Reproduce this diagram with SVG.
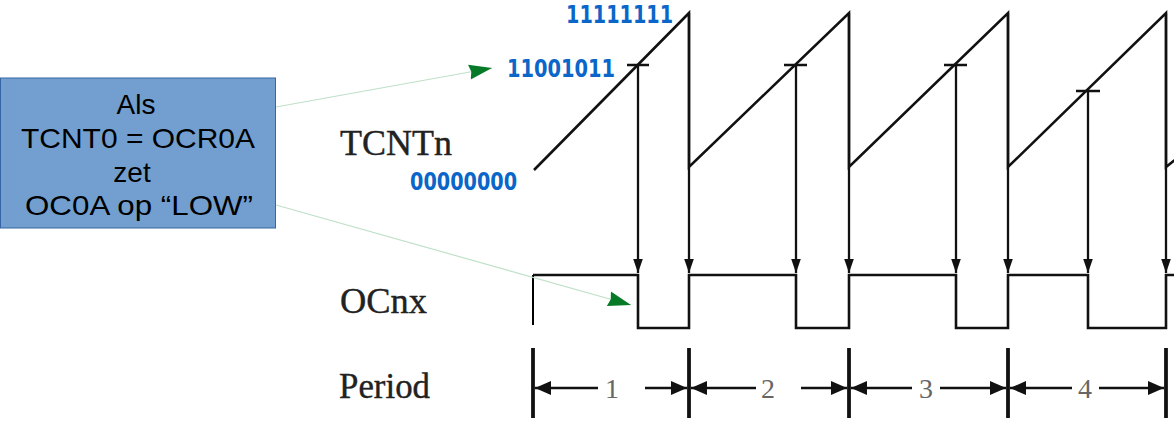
<svg xmlns="http://www.w3.org/2000/svg" width="1174" height="426" viewBox="0 0 1174 426">
<style>
.wave{fill:none;stroke:#111;stroke-width:2.6;stroke-linejoin:miter}
.trig{fill:none;stroke:#111;stroke-width:2.3}
.bar{stroke:#111;stroke-width:3.8}
.dim{stroke:#111;stroke-width:2.6}
.lbl{font-family:"Liberation Serif",serif;font-size:36px;fill:#222;stroke:#222;stroke-width:0.4}
.num{font-family:"Liberation Serif",serif;font-size:28px;fill:#666}
.bin{font-family:"DejaVu Sans",sans-serif;font-weight:bold;font-size:24px;fill:#0a66c8}
.boxt{font-family:"Liberation Sans",Arial,sans-serif;font-size:28px;fill:#000}
.conn{fill:none;stroke:#bfe0c8;stroke-width:1.2}
</style>
<defs>
<marker id="down" markerUnits="userSpaceOnUse" markerWidth="16" markerHeight="12" viewBox="-15 -6 16 12" refX="0" refY="0" orient="auto">
<path d="M0,0 L-14,-4.8 L-14,4.8 Z" fill="#111"/>
</marker>
<marker id="dimh" markerUnits="userSpaceOnUse" markerWidth="18" markerHeight="16" viewBox="-17 -8 18 16" refX="0" refY="0" orient="auto">
<path d="M0,0 L-16,-7 L-16,7 Z" fill="#111"/>
</marker>
<marker id="green" markerUnits="userSpaceOnUse" markerWidth="24" markerHeight="16" viewBox="-23 -8 24 16" refX="0" refY="0" orient="auto">
<path d="M0,0 L-23,-7.5 L-21,0 L-23,7.5 Z" fill="#067a26"/>
</marker>
</defs>

<g id="labels">
<text class="lbl" x="340" y="155" textLength="112" lengthAdjust="spacingAndGlyphs">TCNTn</text>
<text class="lbl" x="340" y="313" textLength="87" lengthAdjust="spacingAndGlyphs">OCnx</text>
<text class="lbl" x="339" y="398" textLength="91" lengthAdjust="spacingAndGlyphs">Period</text>
</g>

<g id="binary-values">
<text class="bin" x="566" y="23" textLength="107" lengthAdjust="spacingAndGlyphs">11111111</text>
<text class="bin" x="507" y="77" textLength="108" lengthAdjust="spacingAndGlyphs">11001011</text>
<text class="bin" x="410" y="190" textLength="107" lengthAdjust="spacingAndGlyphs">00000000</text>
</g>

<g id="tcnt-waveform">
<path class="wave" d="M534,170 L689,13 L689,167 L849,13 L849,167 L1008,13 L1008,167 L1166,13 L1166,167 L1180,156"/>
<path class="wave" d="M627,65 H649 M784,65 H807 M944,65 H967 M1076,91 H1100"/>
</g>

<g id="trigger-lines">
<line class="trig" x1="638" y1="65" x2="638" y2="273" marker-end="url(#down)"/>
<line class="trig" x1="689" y1="13" x2="689" y2="273" marker-end="url(#down)"/>
<line class="trig" x1="796" y1="65" x2="796" y2="273" marker-end="url(#down)"/>
<line class="trig" x1="849" y1="13" x2="849" y2="273" marker-end="url(#down)"/>
<line class="trig" x1="956" y1="65" x2="956" y2="273" marker-end="url(#down)"/>
<line class="trig" x1="1008" y1="13" x2="1008" y2="273" marker-end="url(#down)"/>
<line class="trig" x1="1088" y1="91" x2="1088" y2="273" marker-end="url(#down)"/>
<line class="trig" x1="1166" y1="13" x2="1166" y2="273" marker-end="url(#down)"/>
</g>

<g id="ocnx-waveform">
<path class="wave" d="M533,275 H638 V328 H689 V275 H796 V328 H849 V275 H956 V328 H1008 V275 H1088 V328 H1166 V275 H1180"/>
<line x1="533" y1="275" x2="533" y2="325" stroke="#000" stroke-width="2"/>
</g>

<g id="period">
<line class="bar" x1="533" y1="348" x2="533" y2="418"/>
<line class="bar" x1="689" y1="348" x2="689" y2="418"/>
<line class="bar" x1="849" y1="348" x2="849" y2="418"/>
<line class="bar" x1="1008" y1="348" x2="1008" y2="418"/>
<line class="bar" x1="1166" y1="348" x2="1166" y2="418"/>
<line class="dim" x1="598" y1="388" x2="535" y2="388" marker-end="url(#dimh)"/>
<line class="dim" x1="645" y1="388" x2="687" y2="388" marker-end="url(#dimh)"/>
<line class="dim" x1="756" y1="388" x2="691" y2="388" marker-end="url(#dimh)"/>
<line class="dim" x1="801" y1="388" x2="847" y2="388" marker-end="url(#dimh)"/>
<line class="dim" x1="912" y1="388" x2="851" y2="388" marker-end="url(#dimh)"/>
<line class="dim" x1="940" y1="388" x2="1006" y2="388" marker-end="url(#dimh)"/>
<line class="dim" x1="1072" y1="388" x2="1010" y2="388" marker-end="url(#dimh)"/>
<line class="dim" x1="1099" y1="388" x2="1164" y2="388" marker-end="url(#dimh)"/>
<text class="num" x="612" y="398" text-anchor="middle">1</text>
<text class="num" x="768" y="398" text-anchor="middle">2</text>
<text class="num" x="926" y="398" text-anchor="middle">3</text>
<text class="num" x="1085" y="398" text-anchor="middle">4</text>
</g>

<g id="note-box">
<rect x="0.5" y="78" width="275" height="150" fill="#729fcf" stroke="#3465a4" stroke-width="1"/>
<text class="boxt" x="136" y="114" text-anchor="middle">Als</text>
<text class="boxt" x="138" y="148" text-anchor="middle" textLength="234" lengthAdjust="spacingAndGlyphs">TCNT0 = OCR0A</text>
<text class="boxt" x="132" y="182" text-anchor="middle">zet</text>
<text class="boxt" x="139" y="215" text-anchor="middle" textLength="228" lengthAdjust="spacingAndGlyphs">OC0A op “LOW”</text>
</g>

<g id="connectors">
<line class="conn" x1="276" y1="107" x2="492" y2="68" marker-end="url(#green)"/>
<line class="conn" x1="276" y1="205" x2="631" y2="305" marker-end="url(#green)"/>
</g>
</svg>
